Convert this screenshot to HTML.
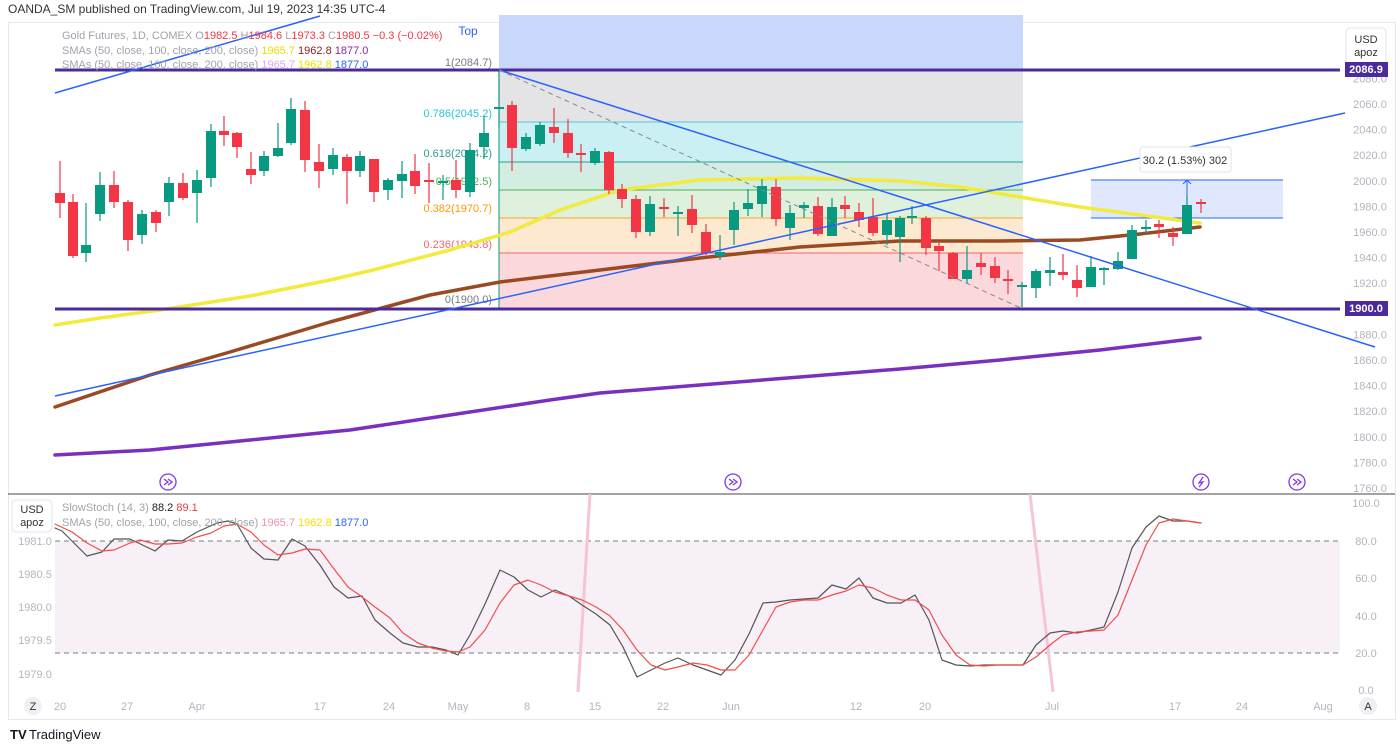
<!DOCTYPE html>
<html><head><meta charset="utf-8"><style>
html,body{margin:0;padding:0;background:#fff;width:1400px;height:749px;overflow:hidden}
svg{display:block;font-family:"Liberation Sans",sans-serif}
</style></head><body>
<svg id="s" width="1400" height="749" viewBox="0 0 1400 749" xmlns="http://www.w3.org/2000/svg">
<rect width="1400" height="749" fill="#fff"/>
<text x="8" y="13" font-size="12" fill="#333">OANDA_SM published on TradingView.com, Jul 19, 2023 14:35 UTC-4</text>
<rect x="8.5" y="22.5" width="1387" height="697" fill="none" stroke="#e6e8ee"/>
<line x1="8" y1="494" x2="1395" y2="494" stroke="#444" stroke-width="1"/>
<!-- Top area -->
<rect x="499" y="15" width="524" height="55" fill="#c9d8fa"/>
<text x="468" y="35" font-size="12" fill="#2962ff" text-anchor="middle">Top</text>
<!-- fib -->
<rect x="499" y="70" width="524" height="52" fill="#e4e4e7"/>
<rect x="499" y="122" width="524" height="40" fill="#cbf0f3"/>
<rect x="499" y="162" width="524" height="28" fill="#d3ede3"/>
<rect x="499" y="190" width="524" height="28" fill="#dff0dc"/>
<rect x="499" y="218" width="524" height="35" fill="#fde9d0"/>
<rect x="499" y="253" width="524" height="56" fill="#fbd8dc"/>
<line x1="499" y1="70" x2="1023" y2="70" stroke="#888"/>
<line x1="499" y1="122" x2="1023" y2="122" stroke="#4dc6d8"/>
<line x1="499" y1="162" x2="1023" y2="162" stroke="#2a9d8f"/>
<line x1="499" y1="190" x2="1023" y2="190" stroke="#4caf50"/>
<line x1="499" y1="218" x2="1023" y2="218" stroke="#f5a623"/>
<line x1="499" y1="253" x2="1023" y2="253" stroke="#f26470"/>
<line x1="499" y1="70" x2="499" y2="309" stroke="#089981"/>
<g font-size="11" text-anchor="end">
<text x="492" y="66" fill="#787b86">1(2084.7)</text>
<text x="492" y="117" fill="#26c6da">0.786(2045.2)</text>
<text x="492" y="157" fill="#2a9d8f">0.618(2014.2)</text>
<text x="492" y="185" fill="#4caf50">0.5(1992.5)</text>
<text x="492" y="212" fill="#ff9800">0.382(1970.7)</text>
<text x="492" y="248" fill="#f26470">0.236(1943.8)</text>
<text x="492" y="303" fill="#787b86">0(1900.0)</text>
</g>
<!-- measure box -->
<rect x="1091" y="180" width="192" height="38" fill="rgba(41,98,255,0.15)"/>
<line x1="1091" y1="180" x2="1283" y2="180" stroke="#2962ff"/>
<line x1="1091" y1="218" x2="1283" y2="218" stroke="#2962ff"/>
<line x1="1187" y1="218" x2="1187" y2="180" stroke="#2962ff"/>
<polyline points="1183,184 1187,180 1191,184" fill="none" stroke="#2962ff"/>
<g id="ind"></g>
<g id="cd"></g>
<line x1="55" y1="70" x2="1340" y2="70" stroke="#4a2a9c" stroke-width="3"/>
<line x1="55" y1="309" x2="1340" y2="309" stroke="#4a2a9c" stroke-width="3"/>
<line x1="55" y1="93" x2="320" y2="16" stroke="#2962ff" stroke-width="1.5"/>
<line x1="55" y1="396" x2="1345" y2="113" stroke="#2962ff" stroke-width="1.5"/>
<line x1="499" y1="70" x2="1375" y2="347" stroke="#2962ff" stroke-width="1.5"/>
<line x1="499" y1="70" x2="1023" y2="309" stroke="#888" stroke-width="1" stroke-dasharray="5,4"/>
<rect x="1140" y="147" width="91" height="25" rx="3" fill="#fff" stroke="#e0e3eb"/>
<text x="1185" y="164" font-size="11" fill="#333" text-anchor="middle">30.2 (1.53%) 302</text>
<!-- legend -->
<g font-size="11">
<text x="62" y="39" fill="#a0a3ab">Gold Futures, 1D, COMEX  O<tspan fill="#f23645">1982.5</tspan>  H<tspan fill="#f23645">1984.6</tspan>  L<tspan fill="#f23645">1973.3</tspan>  C<tspan fill="#f23645">1980.5</tspan>  <tspan fill="#f23645">−0.3 (−0.02%)</tspan></text>
<text x="62" y="54" fill="#a0a3ab">SMAs (50, close, 100, close, 200, close)  <tspan fill="#e8e000">1965.7</tspan>  <tspan fill="#8b1a1a">1962.8</tspan>  <tspan fill="#8e24aa">1877.0</tspan></text>
<text x="62" y="68" fill="#a0a3ab">SMAs (50, close, 100, close, 200, close)  <tspan fill="#e1a8e8">1965.7</tspan>  <tspan fill="#e8e000">1962.8</tspan>  <tspan fill="#2962ff">1877.0</tspan></text>
</g>
<!-- right axis -->
<g font-size="11" fill="#b2b5be" text-anchor="middle" id="ra"></g>
<rect x="1346" y="28" width="40" height="36" rx="4" fill="#fff" stroke="#e0e3eb"/>
<text x="1366" y="43" font-size="11" fill="#333" text-anchor="middle">USD</text>
<text x="1366" y="56" font-size="11" fill="#333" text-anchor="middle">apoz</text>
<rect x="1345" y="62" width="43" height="15" fill="#4a2a9c"/>
<text x="1366" y="73" font-size="11" font-weight="bold" fill="#fff" text-anchor="middle">2086.9</text>
<rect x="1345" y="301" width="43" height="15" fill="#4a2a9c"/>
<text x="1366" y="312" font-size="11" font-weight="bold" fill="#fff" text-anchor="middle">1900.0</text>
<!-- icons -->
<g fill="none" stroke="#7c3aed" stroke-width="1.3">
<circle cx="168" cy="482" r="8"/><circle cx="733" cy="482" r="8"/><circle cx="1201" cy="482" r="8"/><circle cx="1297" cy="482" r="8"/>
<polyline points="164,479 168,482 164,485"/><polyline points="168,479 172,482 168,485"/>
<polyline points="729,479 733,482 729,485"/><polyline points="733,479 737,482 733,485"/>
<polyline points="1293,479 1297,482 1293,485"/><polyline points="1297,479 1301,482 1297,485"/>
<polyline points="1203,477 1199,483 1203,482 1199,487"/>
</g>
<!-- lower pane -->
<rect x="55" y="541" width="1285" height="112" fill="#f7f0f7"/>
<line x1="55" y1="541" x2="1340" y2="541" stroke="#787b86" stroke-dasharray="5,4"/>
<line x1="55" y1="653" x2="1340" y2="653" stroke="#787b86" stroke-dasharray="5,4"/>
<line x1="590" y1="494" x2="578" y2="692" stroke="#f7c4d6" stroke-width="3"/>
<line x1="1030" y1="494" x2="1053" y2="692" stroke="#f7c4d6" stroke-width="3"/>
<g id="st"></g>
<rect x="12" y="500" width="40" height="32" rx="4" fill="#fff" stroke="#e0e3eb"/>
<text x="32" y="513" font-size="11" fill="#333" text-anchor="middle">USD</text>
<text x="32" y="526" font-size="11" fill="#333" text-anchor="middle">apoz</text>
<g font-size="11">
<text x="62" y="511" fill="#a0a3ab">SlowStoch (14, 3)  <tspan fill="#222">88.2</tspan>  <tspan fill="#f23645">89.1</tspan></text>
<text x="62" y="526" fill="#a0a3ab">SMAs (50, close, 100, close, 200, close)  <tspan fill="#f48fb1">1965.7</tspan>  <tspan fill="#f5e000">1962.8</tspan>  <tspan fill="#2962ff">1877.0</tspan></text>
</g>
<g font-size="11" fill="#b2b5be" text-anchor="middle">
<text x="35" y="545">1981.0</text><text x="35" y="578">1980.5</text><text x="35" y="611">1980.0</text><text x="35" y="644">1979.5</text><text x="35" y="678">1979.0</text>
<text x="1366" y="507">100.0</text><text x="1366" y="545">80.0</text><text x="1366" y="582">60.0</text><text x="1366" y="620">40.0</text><text x="1366" y="657">20.0</text><text x="1366" y="694">0.0</text>
</g>
<g font-size="11" fill="#b2b5be" text-anchor="middle">
<text x="60" y="710">20</text><text x="127" y="710">27</text><text x="197" y="710">Apr</text><text x="320" y="710">17</text><text x="389" y="710">24</text><text x="458" y="710">May</text><text x="527" y="710">8</text><text x="595" y="710">15</text><text x="663" y="710">22</text><text x="731" y="710">Jun</text><text x="856" y="710">12</text><text x="925" y="710">20</text><text x="1052" y="710">Jul</text><text x="1175" y="710">17</text><text x="1242" y="710">24</text><text x="1323" y="710">Aug</text>
</g>
<circle cx="33" cy="706" r="9" fill="#eef0f3"/><text x="33" y="710" font-size="11" fill="#333" text-anchor="middle">Z</text>
<circle cx="1368" cy="706" r="9" fill="#eef0f3"/><text x="1368" y="710" font-size="11" fill="#333" text-anchor="middle">A</text>
<text x="10" y="739" font-size="13" font-weight="bold" fill="#131722">TV</text>
<text x="29" y="739" font-size="13" fill="#131722">TradingView</text>
</svg>
<script>
var NS="http://www.w3.org/2000/svg";
function el(p,t,a){var e=document.createElementNS(NS,t);for(var k in a)e.setAttribute(k,a[k]);p.appendChild(e);return e;}
var ra=document.getElementById('ra');
for(var v=2080;v>=1760;v-=20){var y=104+(2060-v)*1.28;var t=el(ra,'text',{x:1370,y:y+4});t.textContent=v.toFixed(1);}
var ind=document.getElementById('ind');
function pl(g,pts,c,w){el(g,'polyline',{points:pts.map(function(p){return p.join(',')}).join(' '),fill:'none',stroke:c,'stroke-width':w,'stroke-linejoin':'round','stroke-linecap':'round'});}
pl(ind,[[55,325],[100,318],[160,310],[250,296],[330,280],[373,270],[450,250],[510,232],[560,210],[620,190],[700,180],[800,178],[900,181],[960,187],[1020,197],[1080,207],[1140,215],[1200,223]],'#f2ea3c',3.5);
pl(ind,[[55,407],[150,375],[230,352],[330,322],[430,295],[500,282],[600,270],[700,258],[800,247],[900,241],[1000,241],[1080,240],[1140,234],[1200,227]],'#9a4a22',3.5);
pl(ind,[[55,455],[150,450],[250,440],[350,430],[450,415],[550,400],[600,393],[700,385],[800,377],[900,369],[1000,360],[1100,350],[1200,338]],'#7b2fbf',3.5);
var C=[[60,193,203,161,218,0],[73,202,256,194,258,0],[86,245,253,203,262,1],[100,185,214,172,221,1],[114,185,202,171,208,0],[128,202,240,200,251,0],[142,214,235,210,244,1],[156,212,223,210,232,0],[169,183,202,177,216,1],[183,183,198,173,200,0],[197,180,193,170,223,1],[211,131,178,124,187,1],[224,131,135,116,146,0],[237,133,147,132,158,0],[251,169,175,152,184,0],[264,156,171,151,176,1],[278,148,156,123,157,1],[291,109,143,98,145,1],[305,110,160,101,172,0],[319,162,171,144,188,0],[333,155,169,148,175,1],[347,157,171,154,204,0],[360,156,171,151,177,1],[374,159,192,159,202,0],[388,180,190,178,200,1],[402,174,181,161,198,1],[415,171,186,154,194,0],[429,180,182,163,203,0],[443,181,182,175,200,1],[456,180,190,160,198,0],[470,150,192,143,197,1],[484,133,147,116,159,1],[499,107,108,70,128,1],[512,105,148,101,171,0],[526,137,149,133,151,1],[540,125,144,122,146,1],[554,127,133,108,143,0],[568,133,153,119,158,0],[581,153,155,144,172,0],[595,151,163,148,165,1],[609,152,190,151,194,0],[622,189,199,184,208,0],[636,199,232,195,238,0],[650,204,232,196,236,1],[664,207,209,198,217,0],[678,212,213,206,236,1],[692,209,225,195,233,0],[706,232,253,224,255,0],[720,252,256,235,260,1],[734,210,230,202,245,1],[748,203,209,189,216,1],[762,186,204,179,217,1],[776,187,219,179,226,0],[790,213,228,205,240,1],[804,205,208,202,218,1],[818,206,234,197,236,0],[832,207,236,198,236,1],[845,205,209,196,218,0],[859,212,220,203,227,0],[873,217,233,198,236,0],[887,220,235,213,245,1],[900,218,237,216,262,1],[912,216,218,206,224,1],[926,218,248,216,255,0],[939,246,251,243,271,0],[953,253,279,252,279,0],[967,270,279,246,283,1],[981,263,267,253,275,0],[995,266,278,257,283,0],[1008,279,280,270,294,0],[1022,285,287,282,307,1],[1036,271,288,269,298,1],[1050,270,273,257,286,1],[1063,272,275,254,280,0],[1077,280,288,265,297,0],[1091,267,287,256,287,1],[1104,268,269,267,285,1],[1118,261,269,252,270,1],[1132,230,259,225,259,1],[1146,227,228,220,235,1],[1159,224,227,220,238,0],[1173,233,237,227,246,0],[1187,205,234,195,234,1],[1201,202,204,199,213,0]];
var cd=document.getElementById('cd');
C.forEach(function(c){var col=c[5]?'#089981':'#f23645';el(cd,'line',{x1:c[0],y1:c[3],x2:c[0],y2:c[4],stroke:col,'stroke-width':1.2});el(cd,'rect',{x:c[0]-5,y:c[1],width:10,height:Math.max(2,c[2]-c[1]),fill:col});});
var st=document.getElementById('st');
pl(st,[[55,528],[62,531],[87,556],[102,552],[114,539],[130,539],[155,551],[168,540],[182,541],[197,532],[217,523],[228,521],[237,524],[251,548],[264,559],[278,560],[292,539],[305,546],[320,565],[334,587],[348,598],[362,596],[375,620],[390,633],[403,643],[418,647],[432,647],[446,650],[458,655],[470,635],[485,604],[500,570],[514,577],[528,590],[541,597],[555,590],[569,596],[582,605],[596,614],[610,625],[623,647],[637,677],[651,670],[665,663],[678,658],[693,665],[707,670],[721,675],[735,660],[749,634],[763,603],[776,602],[790,600],[804,599],[818,598],[832,585],[846,589],[859,578],[873,598],[887,603],[901,603],[915,595],[929,620],[942,660],[956,665],[970,666],[984,665],[998,665],[1012,665],[1023,665],[1036,645],[1050,633],[1063,631],[1077,633],[1091,630],[1104,627],[1118,592],[1132,548],[1146,527],[1159,516],[1173,521],[1187,521],[1201,523]],'#555',1.2);
pl(st,[[55,524],[72,532],[87,543],[102,551],[114,550],[130,543],[140,540],[155,544],[168,544],[182,543],[197,537],[211,533],[224,526],[237,524],[251,532],[264,545],[278,555],[292,553],[305,549],[320,550],[334,569],[348,587],[362,597],[375,607],[390,618],[403,633],[418,643],[432,648],[446,651],[458,652],[470,647],[485,630],[500,603],[514,585],[528,580],[541,585],[555,592],[569,596],[582,600],[596,607],[610,616],[623,630],[637,650],[651,665],[665,670],[678,667],[693,663],[707,665],[721,670],[735,670],[749,655],[763,630],[776,607],[790,602],[804,600],[818,600],[832,595],[846,591],[859,585],[873,588],[887,595],[901,600],[915,600],[929,610],[942,635],[956,655],[970,665],[984,666],[998,665],[1012,665],[1023,665],[1036,657],[1050,645],[1063,635],[1077,632],[1091,631],[1104,630],[1118,615],[1132,580],[1146,545],[1159,523],[1173,519],[1187,521],[1201,523]],'#f44c4c',1.2);
</script>
</body></html>
